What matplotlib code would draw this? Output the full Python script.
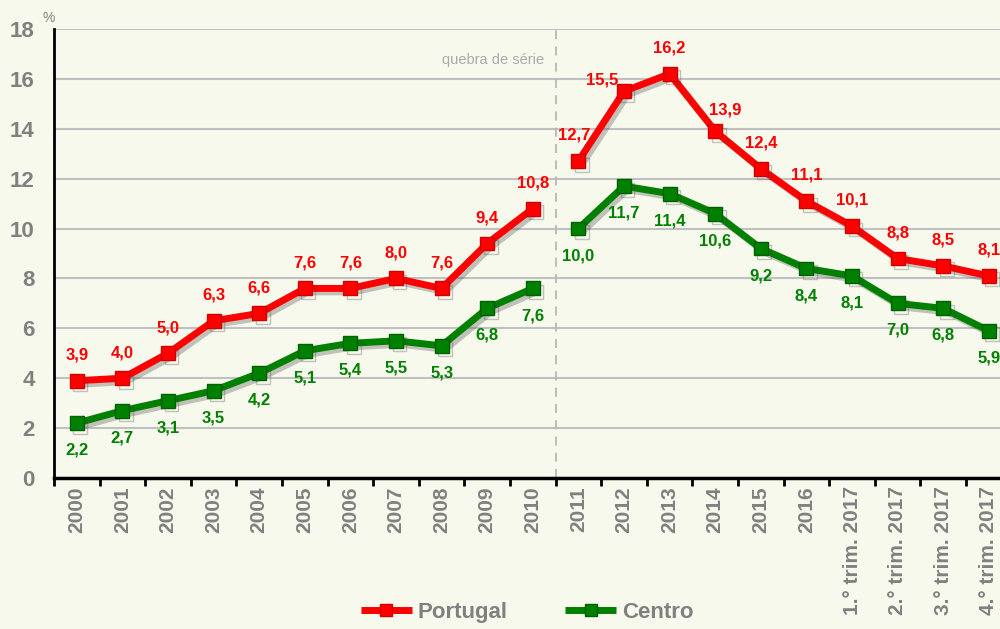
import matplotlib
matplotlib.use("Agg")
import matplotlib.pyplot as plt
import matplotlib.patheffects as pe
import numpy as np

plt.rcParams['font.family'] = ['Liberation Sans', 'DejaVu Sans']

categories = [str(y) for y in range(2000, 2017)] + [
    "1.° trim. 2017", "2.° trim. 2017", "3.° trim. 2017", "4.° trim. 2017"]
portugal = [3.9, 4.0, 5.0, 6.3, 6.6, 7.6, 7.6, 8.0, 7.6, 9.4, 10.8,
            12.7, 15.5, 16.2, 13.9, 12.4, 11.1, 10.1, 8.8, 8.5, 8.1]
centro = [2.2, 2.7, 3.1, 3.5, 4.2, 5.1, 5.4, 5.5, 5.3, 6.8, 7.6,
          10.0, 11.7, 11.4, 10.6, 9.2, 8.4, 8.1, 7.0, 6.8, 5.9]
break_index = 11  # first value of the new series

# label offsets (points) from the marker centre
pt_off = [(0, 18.5)] * 21
pt_off[11] = (-3, 18.5)
pt_off[12] = (-16, 8)
pt_off[14] = (7, 15)
ce_off = [(0, -19.5)] * 21

bg = '#F6F9EC'
gray = '#808080'
red = '#FF0000'
green = '#008000'

fig = plt.figure(figsize=(10, 6.29), dpi=100, facecolor=bg)
ax = fig.add_axes([0.054, 0.240, 0.9576, 0.714])
ax.set_facecolor(bg)

x = np.arange(len(categories))
shadow = [pe.SimpleLineShadow(offset=(2.5, -2.5), shadow_color='#444444', alpha=0.3),
          pe.Normal()]

def draw_series(vals, color, edge, label):
    segs = [(0, break_index), (break_index, len(vals))]
    for i, (a, b) in enumerate(segs):
        ax.plot(x[a:b], vals[a:b], color=color, lw=5, marker='s', ms=10,
                markerfacecolor=color, markeredgecolor=edge, markeredgewidth=1,
                solid_capstyle='butt', path_effects=shadow, zorder=4,
                label=label if i == 0 else None)

draw_series(portugal, red, '#D00000', 'Portugal')
draw_series(centro, green, '#006000', 'Centro')

fmt = lambda v: f"{v:.1f}".replace('.', ',')
for i, v in enumerate(portugal):
    ax.annotate(fmt(v), (x[i], v), xytext=pt_off[i], textcoords='offset points',
                ha='center', va='center', color=red, fontsize=12, fontweight='bold',
                zorder=6)
for i, v in enumerate(centro):
    ax.annotate(fmt(v), (x[i], v), xytext=ce_off[i], textcoords='offset points',
                ha='center', va='center', color=green, fontsize=12, fontweight='bold',
                zorder=6)

ax.set_xlim(-0.5, len(categories) - 0.5)
ax.set_ylim(0, 18)
ax.set_yticks(np.arange(0, 19, 2))
ax.yaxis.grid(True, color='#C0C0C0', lw=1.5)
ax.set_axisbelow(True)
ax.tick_params(axis='y', length=0, labelsize=16, labelcolor=gray, pad=14)
for lbl in ax.get_yticklabels():
    lbl.set_fontweight('bold')

ax.set_xticks(x)
ax.set_xticklabels(categories, rotation=90, fontsize=15, fontweight='bold', color=gray)
ax.set_xticks(np.arange(-0.5, len(categories)), minor=True)
ax.tick_params(axis='x', which='major', length=0, pad=6)
ax.tick_params(axis='x', which='minor', length=6, width=2, color='black', direction='out')

for s in ['top', 'right']:
    ax.spines[s].set_visible(False)
ax.spines['left'].set_linewidth(2)
ax.spines['bottom'].set_linewidth(2.5)

ax.axvline(break_index - 0.5, color='#B8B8B8', lw=1.3, ls=(0, (5, 4)), zorder=1)
ax.text(break_index - 0.75, 16.75, 'quebra de série', ha='right', va='center',
        fontsize=10.5, color='#AAAAAA')
fig.text(0.049, 0.972, '%', ha='center', va='center', fontsize=10, color=gray)

leg = fig.legend(loc='center', bbox_to_anchor=(0.527, 0.027), ncol=2, frameon=False,
                 fontsize=16, handlelength=2.3, columnspacing=2.6, handletextpad=0.25,
                 markerscale=0.85)
for t in leg.get_texts():
    t.set_color(gray)
    t.set_fontweight('bold')
for h in leg.legend_handles:
    h.set_path_effects([])

fig.savefig('out.png', dpi=100, facecolor=bg)
